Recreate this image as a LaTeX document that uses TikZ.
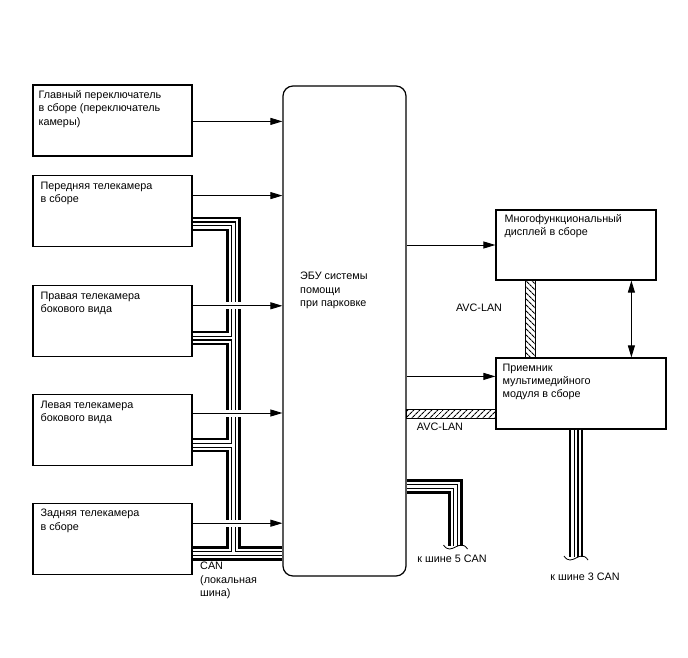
\documentclass[tikz,border=0pt]{standalone}
\usepackage{fontspec}
\setmainfont{Liberation Sans}
\usetikzlibrary{arrows.meta,positioning,patterns.meta}
\definecolor{lineblack}{RGB}{0,0,0}

\tikzset{
  unit/.style={draw=lineblack, line width=1.2pt, minimum width=159pt, minimum height=71pt, inner sep=0pt},
  unittext/.style={anchor=north west, align=left, inner sep=0pt, font=\fontsize{10.8}{13.3}\selectfont},
  plain/.style={inner sep=0pt, font=\fontsize{10.8}{13.3}\selectfont},
  sig/.style={-{Triangle[length=12pt,width=7pt]}, line width=0.9pt},
  sigx/.style={sig, preaction={draw=white, -, line width=7pt, shorten <=28pt, shorten >=40pt}},
  avcband/.style={draw=lineblack, line width=0.9pt, pattern={Lines[angle=#1,distance=4pt,line width=1.2pt]}},
}
% bundle of the CAN lines: thick, thin, thin, thick
\newcommand{\canbus}[1]{%
  \foreach \w/\c in {14.5/black,9.5/white,5/black,2.6/white}
    \draw[line width=\w pt, draw=\c, line join=miter] #1;}

\begin{document}
\begin{tikzpicture}[x=1pt,y=-1pt]
\useasboundingbox (0,0) rectangle (688,658);

% cameras and switch
\node[unit] (ctrl) at (112.5,120.5) {};
\node[unit, below=18pt of ctrl] (front) {};
\node[unit, below=38pt of front] (right) {};
\node[unit, below=37pt of right] (left) {};
\node[unit, below=37pt of left] (rear) {};
\node[unittext] at ([xshift=6pt,yshift=-6pt]ctrl.north west) {Главный переключатель\\в сборе (переключатель\\камеры)};
\node[unittext] at ([xshift=8pt,yshift=-7pt]front.north west) {Передняя телекамера\\в сборе};
\node[unittext] at ([xshift=8pt,yshift=-7pt]right.north west) {Правая телекамера\\бокового вида};
\node[unittext] at ([xshift=8pt,yshift=-7pt]left.north west) {Левая телекамера\\бокового вида};
\node[unittext] at ([xshift=8pt,yshift=-6pt]rear.north west) {Задняя телекамера\\в сборе};

% ECU
\node[draw=lineblack, line width=1.2pt, rounded corners=10pt, minimum width=123pt, minimum height=490pt] (ecu) at (344.5,331) {};
\node[unittext] at (300,272) {ЭБУ системы\\помощи\\при парковке};

% display and receiver
\node[draw=lineblack, line width=1.2pt, minimum width=160pt, minimum height=70pt] (disp) at (576,245) {};
\node[draw=lineblack, line width=1.2pt, minimum width=170pt, minimum height=71pt] (recv) at (581,393.5) {};
\node[unittext] at ([xshift=9pt,yshift=-5pt]disp.north west) {Многофункциональный\\дисплей в сборе};
\node[unittext] at ([xshift=7pt,yshift=-6pt]recv.north west) {Приемник\\мультимедийного\\модуля в сборе};

% local CAN
\foreach \n/\d in {front/23, right/19, left/21, rear/22}
  \coordinate (\n-can) at ([yshift=\d pt]\n.south east);
\coordinate (trunk) at ([xshift=41pt]front-can);
\canbus{(front-can) -- (front-can -| trunk) -- (rear-can -| trunk) (right-can) -- (right-can -| trunk) (left-can) -- (left-can -| trunk) (rear-can) -- (rear-can -| ecu.west)}

% signals to the ECU
\foreach \n/\d/\s in {ctrl/37/sig, front/21/sig, right/21/sigx, left/19/sigx, rear/20/sigx} {
  \coordinate (\n-out) at ([yshift=-\d pt]\n.north east);
  \draw[\s] (\n-out) -- (\n-out -| ecu.west);
}

% outputs
\draw[sig] (disp.west -| ecu.east) -- (disp.west);
\coordinate (recv-in) at ([yshift=-19pt]recv.north west);
\draw[sig] (recv-in -| ecu.east) -- (recv-in);
\coordinate (link) at ([xshift=136pt]disp.south west);
\draw[{Triangle[length=12pt,width=7pt]}-{Triangle[length=12pt,width=7pt]}, line width=0.9pt] (link) -- (link |- recv.north);

% AVC-LAN
\coordinate (avc-top) at ([xshift=30pt]disp.south west);
\coordinate (avc-bot) at ([xshift=40pt]recv.north west);
\draw[avcband=-45] (avc-top) rectangle (avc-bot);
\coordinate (h1) at ([yshift=20pt]recv.south west);
\coordinate (h2) at ([yshift=11pt]recv.south west);
\draw[avcband=45] (h1 -| ecu.east) rectangle (h2);
\node[plain] (avc-v) at (479,308) {AVC-LAN};
\node[plain] (avc-h) at (440,427) {AVC-LAN};

% CAN buses
\coordinate (bus5-turn) at (455.5,486.5);
\coordinate (bus5) at (455.5,546);
\canbus{(bus5-turn -| ecu.east) -- (bus5-turn) -- (bus5)}
\draw[line width=0.8pt] ([xshift=-12pt,yshift=1pt]bus5) .. controls +(4,6) and +(-4,2) .. ([yshift=-1pt]bus5) .. controls +(4,-2) and +(-4,-6) .. ([xshift=12pt,yshift=-3pt]bus5);
\coordinate (bus3) at (576,557);
\canbus{(bus3 |- recv.south) -- (bus3)}
\draw[line width=0.8pt] ([xshift=-12pt,yshift=1pt]bus3) .. controls +(4,6) and +(-4,2) .. ([yshift=-1pt]bus3) .. controls +(4,-2) and +(-4,-6) .. ([xshift=12pt,yshift=-3pt]bus3);
\node[plain] (bus5-label) at (452,559) {к шине 5 CAN};
\node[plain] (bus3-label) at (585,577) {к шине 3 CAN};
\node[unittext] (can-label) at (200,562) {CAN\\(локальная\\шина)};
\end{tikzpicture}
\end{document}
